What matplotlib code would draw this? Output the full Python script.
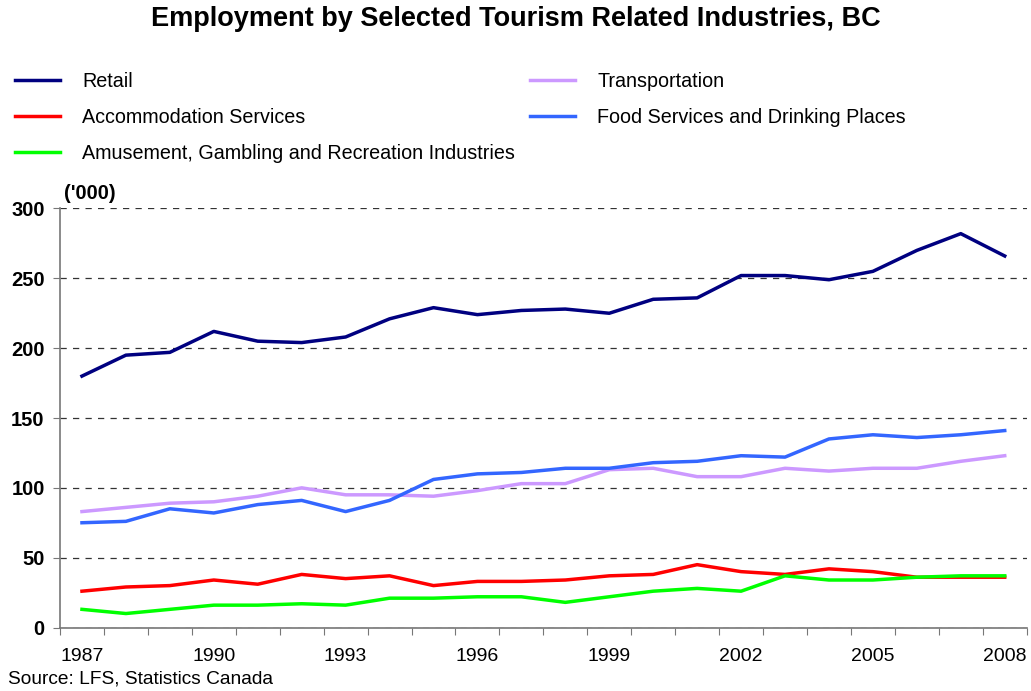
import numpy as np
import matplotlib.pyplot as plt
from matplotlib.ticker import FixedLocator, NullFormatter

plt.rcParams['font.family'] = ['Liberation Sans', 'DejaVu Sans']

years = list(range(1987, 2009))
retail = [180, 195, 197, 212, 205, 204, 208, 221, 229, 224, 227, 228, 225, 235, 236, 252,
          252, 249, 255, 270, 282, 266]
transport = [83, 86, 89, 90, 94, 100, 95, 95, 94, 98, 103, 103, 113, 114, 108, 108,
             114, 112, 114, 114, 119, 123]
food = [75, 76, 85, 82, 88, 91, 83, 91, 106, 110, 111, 114, 114, 118, 119, 123,
        122, 135, 138, 136, 138, 141]
accom = [26, 29, 30, 34, 31, 38, 35, 37, 30, 33, 33, 34, 37, 38, 45, 40,
         38, 42, 40, 36, 36, 36]
amuse = [13, 10, 13, 16, 16, 17, 16, 21, 21, 22, 22, 18, 22, 26, 28, 26,
         37, 34, 34, 36, 37, 37]

x = np.arange(len(years))

fig = plt.figure(figsize=(10.31, 6.91), dpi=100)
ax = fig.add_axes([60/1031, (691-627.5)/691, (1026.7-60)/1031, (627.5-208.5)/691])

lw = 2.5
l_retail, = ax.plot(x, retail, color='#000080', lw=lw, label='Retail')
l_trans, = ax.plot(x, transport, color='#CC99FF', lw=lw, label='Transportation')
l_acc, = ax.plot(x, accom, color='#FF0000', lw=lw, label='Accommodation Services')
l_food, = ax.plot(x, food, color='#3366FF', lw=lw, label='Food Services and Drinking Places')
l_am, = ax.plot(x, amuse, color='#00FF00', lw=lw,
                label='Amusement, Gambling and Recreation Industries')

ax.set_xlim(-0.5, len(years) - 0.5)
ax.set_ylim(0, 300)
ax.set_yticks(range(0, 301, 50))
ax.yaxis.grid(True, linestyle=(0, (5, 5)), color='#333333', lw=0.9)
ax.set_axisbelow(True)

# ticks between categories, labels every third year
ax.xaxis.set_major_locator(FixedLocator(np.arange(-0.5, len(years), 1)))
ax.xaxis.set_major_formatter(NullFormatter())
lab_idx = list(range(0, len(years), 3))
ax.xaxis.set_minor_locator(FixedLocator(lab_idx))
ax.set_xticklabels([str(years[i]) for i in lab_idx], minor=True)
ax.tick_params(axis='x', which='major', length=5, color='#777777', direction='out')
ax.tick_params(axis='x', which='minor', length=0, pad=14.5, labelsize=14)
ax.tick_params(axis='y', length=5, color='#777777', direction='out', labelsize=14.5, pad=6)
for t in ax.get_yticklabels():
    t.set_fontweight('bold')

for s in ['top', 'right']:
    ax.spines[s].set_visible(False)
for s in ['left', 'bottom']:
    ax.spines[s].set_color('#777777')
    ax.spines[s].set_linewidth(1.2)

fig.text(0.5, 1 - 19/691, 'Employment by Selected Tourism Related Industries, BC',
         ha='center', va='center', fontsize=19.5, fontweight='bold')
fig.text(64/1031, 1 - 194/691, "('000)", ha='left', va='center',
         fontsize=14.5, fontweight='bold')
fig.text(8/1031, 1 - 679/691, 'Source: LFS, Statistics Canada', ha='left',
         va='center', fontsize=13.8)

leg_kw = dict(loc='upper left', frameon=False, fontsize=14.2, handlelength=2.3,
              handletextpad=1.1, labelspacing=0.85, borderaxespad=0, borderpad=0)
fig.legend([l_retail, l_acc, l_am], [l.get_label() for l in [l_retail, l_acc, l_am]],
           bbox_to_anchor=(15/1031, 1 - 72/691), **leg_kw)
fig.legend([l_trans, l_food], [l.get_label() for l in [l_trans, l_food]],
           bbox_to_anchor=(530/1031, 1 - 72/691), **leg_kw)

fig.savefig('out.png', dpi=100)
